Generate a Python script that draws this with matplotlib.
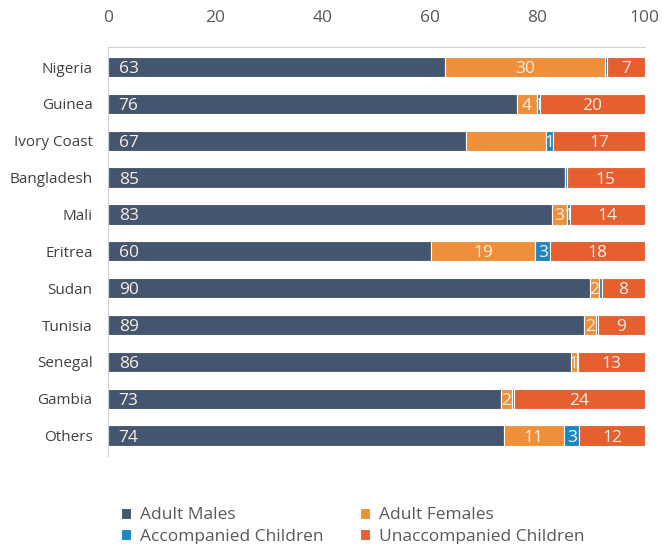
import numpy as np
import matplotlib.pyplot as plt

plt.rcParams["font.family"] = ["Open Sans", "DejaVu Sans"]

countries = ["Nigeria", "Guinea", "Ivory Coast", "Bangladesh", "Mali", "Eritrea",
             "Sudan", "Tunisia", "Senegal", "Gambia", "Others"]

# share of arrivals (%)
adult_males = [62.8, 76.2, 66.7, 85.1, 82.7, 60.2, 89.8, 88.6, 86.2, 73.2, 73.7]
adult_females = [29.8, 3.7, 14.9, 0.0, 2.8, 19.4, 1.7, 2.4, 1.1, 2.0, 11.3]
accompanied = [0.4, 0.6, 1.3, 0.4, 0.6, 2.8, 0.5, 0.2, 0.2, 0.4, 2.8]
unaccompanied = [7.0, 19.5, 17.1, 14.5, 13.9, 17.6, 8.0, 8.8, 12.5, 24.4, 12.2]

# data labels as printed on the chart ("" = no label shown)
lbl_males = ["63", "76", "67", "85", "83", "60", "90", "89", "86", "73", "74"]
lbl_females = ["30", "4", "", "", "3", "19", "2", "2", "1", "2", "11"]
lbl_accomp = ["", "1", "1", "", "1", "3", "", "", "", "", "3"]
lbl_unacc = ["7", "20", "17", "15", "14", "18", "8", "9", "13", "24", "12"]

series = [
    ("Adult Males", adult_males, lbl_males, "#44566f"),
    ("Adult Females", adult_females, lbl_females, "#ef8f3a"),
    ("Accompanied Children", accompanied, lbl_accomp, "#1f87c0"),
    ("Unaccompanied Children", unaccompanied, lbl_unacc, "#e55f2f"),
]

fig = plt.figure(figsize=(6.62, 5.44), dpi=100)
ax = fig.add_axes([0.163, 0.162, 0.811, 0.752])

y = np.arange(len(countries))
left = np.zeros(len(countries))
for i, (name, vals, labels, col) in enumerate(series):
    vals = np.array(vals)
    ax.barh(y, vals, left=left, height=0.55, color=col, edgecolor="white",
            linewidth=0.8, label=name)
    for k in range(len(countries)):
        if labels[k] == "":
            continue
        if i == 0:
            xpos, ha = 2.0, "left"
        else:
            xpos, ha = left[k] + vals[k] / 2, "center"
        ax.text(xpos, y[k], labels[k], ha=ha, va="center_baseline",
                fontsize=12.5, color="#fbeee4")
    left += vals

ax.set_xlim(0, 100)
ax.set_ylim(len(countries) - 0.45, -0.55)
ax.set_yticks(y)
ax.set_yticklabels(countries, fontsize=11, color="#404040")
ax.set_xticks(np.arange(0, 101, 20))
ax.xaxis.tick_top()
ax.tick_params(axis="x", length=0, pad=15, labelsize=12.5, labelcolor="#595959")
ax.tick_params(axis="y", length=0, pad=11)

for side in ["right", "bottom"]:
    ax.spines[side].set_visible(False)
ax.spines["top"].set_color("#d0d0d0")
ax.spines["left"].set_color("#d0d0d0")

handles, labs = ax.get_legend_handles_labels()
order = [0, 2, 1, 3]
leg = fig.legend([handles[j] for j in order], [labs[j] for j in order],
                 loc="lower left", bbox_to_anchor=(0.159, -0.03), ncol=2,
                 frameon=False, fontsize=12.5, handlelength=0.6, handleheight=0.6,
                 handletextpad=0.5, columnspacing=2.1, labelspacing=0.3)
for t in leg.get_texts():
    t.set_color("#595959")

fig.savefig("out.png", dpi=100)
